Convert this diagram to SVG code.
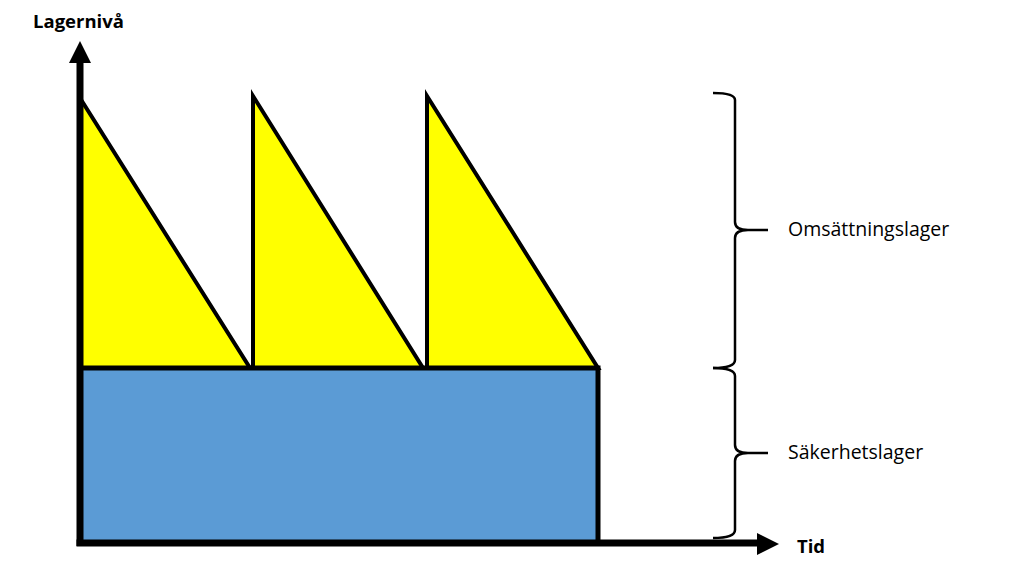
<svg xmlns="http://www.w3.org/2000/svg" width="1024" height="572" viewBox="0 0 1024 572">
<style>
.tri{fill:#FFFF00;stroke:#000;stroke-width:4;stroke-linejoin:miter}
.blk{fill:#5B9BD5;stroke:#000;stroke-width:5}
.ax{stroke:#000;stroke-width:7;fill:none}
.br{stroke:#000;stroke-width:2.5;fill:none}
.lbl{font-family:"Open Sans","Liberation Sans",sans-serif;font-size:19.5px;fill:#000}
.bold{font-family:"Open Sans","Liberation Sans",sans-serif;font-size:18.5px;font-weight:bold;fill:#000}
</style>
<rect width="1024" height="572" fill="#fff"/>
<g id="omsattning">
<polygon class="tri" points="80,98 250,368 80,368"/>
<polygon class="tri" points="253,96 423,368 253,368"/>
<polygon class="tri" points="427,96 598,368 427,368"/>
</g>
<g id="sakerhet">
<rect class="blk" x="80" y="368" width="518" height="175"/>
</g>
<g id="axes">
<line class="ax" x1="80" y1="62" x2="80" y2="546"/>
<polygon points="80,41 69,63 91,63" fill="#000"/>
<line class="ax" x1="76.5" y1="543" x2="760" y2="543"/>
<polygon points="779,544 757,533 757,555" fill="#000"/>
</g>
<g id="braces">
<path class="br" d="M713,93 Q735,93 735,100 L735,222 Q735,230 748,230 L768,230 M748,230 Q735,230 735,238 L735,360 Q735,368 713,368"/>
<path class="br" d="M713,368 Q735,368 735,376 L735,445 Q735,453 748,453 L768,453 M748,453 Q735,453 735,461 L735,530 Q735,538 713,538"/>
</g>
<g id="labels">
<text class="bold" x="33" y="28">Lagernivå</text>
<text class="bold" x="797" y="553">Tid</text>
<text class="lbl" x="788" y="236">Omsättningslager</text>
<text class="lbl" x="788" y="459">Säkerhetslager</text>
</g>
</svg>
